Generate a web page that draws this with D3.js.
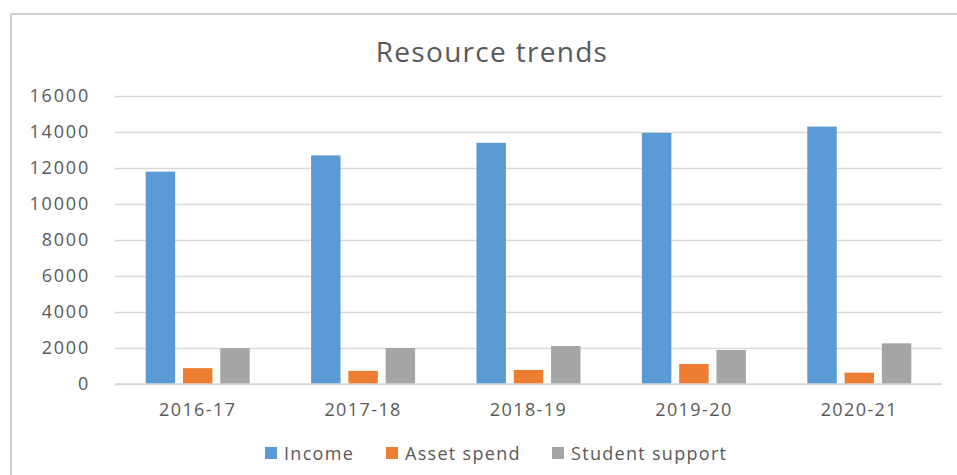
<!DOCTYPE html>
<html>
  <head>
    <title>Resource trends</title>
    <script src="https://cdn.jsdelivr.net/npm/d3@7"></script>
    <style>
      body { margin: 0; background: #fff; }
      text { font-family: "Open Sans", sans-serif; fill: #595959; }
    </style>
  </head>
  <body>
    <svg width="957" height="475" id="mainsvg"></svg>
    <script>
        // data
        const years = ['2016-17', '2017-18', '2018-19', '2019-20', '2020-21'];
        const seriesNames = ['Income', 'Asset spend', 'Student support'];
        const income = [11800, 12700, 13400, 13950, 14300];
        const assetSpend = [880, 730, 780, 1110, 630];
        const studentSupport = [1990, 2000, 2110, 1890, 2260];
        const yTicks = [0, 2000, 4000, 6000, 8000, 10000, 12000, 14000, 16000];
        const colors = ['#5b9bd5', '#ed7d31', '#a5a5a5'];

        const seriesValues = [income, assetSpend, studentSupport];

        const svg = d3.select('#mainsvg');
        const width = +svg.attr('width');
        const height = +svg.attr('height');
        const margin = {top: 96, right: 15, bottom: 91, left: 115};
        const innerWidth = 827;
        const innerHeight = height - margin.top - margin.bottom;

        // chart border (only top and left edges show in the frame)
        svg.append('rect')
          .attr('x', 11).attr('y', 14)
          .attr('width', 960).attr('height', 480)
          .attr('fill', 'none').attr('stroke', '#d0d0d0').attr('stroke-width', 2);

        const g = svg.append('g')
          .attr('transform', `translate(${margin.left}, ${margin.top})`);

        const xScale = d3.scaleBand().domain(years).range([0, innerWidth]);
        const xInner = d3.scaleBand().domain(seriesNames)
          .range([xScale.bandwidth() / 2 - 52, xScale.bandwidth() / 2 + 52])
          .paddingInner(0.21);
        const yScale = d3.scaleLinear().domain([0, 16000]).range([innerHeight, 0]);

        // gridlines + y labels
        const yAxis = d3.axisLeft(yScale).tickValues(yTicks).tickFormat(d3.format('d'))
          .tickSize(-innerWidth).tickPadding(25);
        const yg = g.append('g').call(yAxis);
        yg.select('.domain').remove();
        yg.selectAll('.tick line').attr('stroke', '#d9d9d9').attr('stroke-width', 1.5);
        yg.selectAll('.tick text').attr('font-size', 18).attr('letter-spacing', 1.8)
          .attr('fill', '#595959');

        // bars
        seriesNames.forEach((name, si) => {
          g.append('g').selectAll('rect')
            .data(years.map((y, i) => ({year: y, value: seriesValues[si][i]})))
            .join('rect')
            .attr('x', d => xScale(d.year) + xInner(name))
            .attr('width', xInner.bandwidth())
            .attr('y', d => yScale(d.value))
            .attr('height', d => innerHeight - yScale(d.value))
            .attr('fill', colors[si]);
        });

        // baseline
        g.append('line').attr('x1', 0).attr('x2', innerWidth)
          .attr('y1', innerHeight).attr('y2', innerHeight)
          .attr('stroke', '#d9d9d9').attr('stroke-width', 1.5);

        // x labels
        const xAxis = d3.axisBottom(xScale).tickSize(0).tickPadding(19);
        const xg = g.append('g').attr('transform', `translate(0, ${innerHeight})`).call(xAxis);
        xg.select('.domain').remove();
        xg.selectAll('.tick text').attr('font-size', 18).attr('letter-spacing', 1.4)
          .attr('fill', '#595959');

        // title
        svg.append('text').text('Resource trends')
          .attr('x', 492).attr('y', 62)
          .attr('text-anchor', 'middle')
          .attr('font-size', 28).attr('letter-spacing', 1.3);

        // legend
        const legendX = [265, 386, 552];
        const legend = svg.append('g');
        seriesNames.forEach((name, i) => {
          legend.append('rect')
            .attr('x', legendX[i]).attr('y', 447)
            .attr('width', 12).attr('height', 12)
            .attr('fill', colors[i]);
          legend.append('text').text(name)
            .attr('x', legendX[i] + 19).attr('y', 460)
            .attr('font-size', 18).attr('letter-spacing', 1.3);
        });
    </script>
  </body>
</html>
